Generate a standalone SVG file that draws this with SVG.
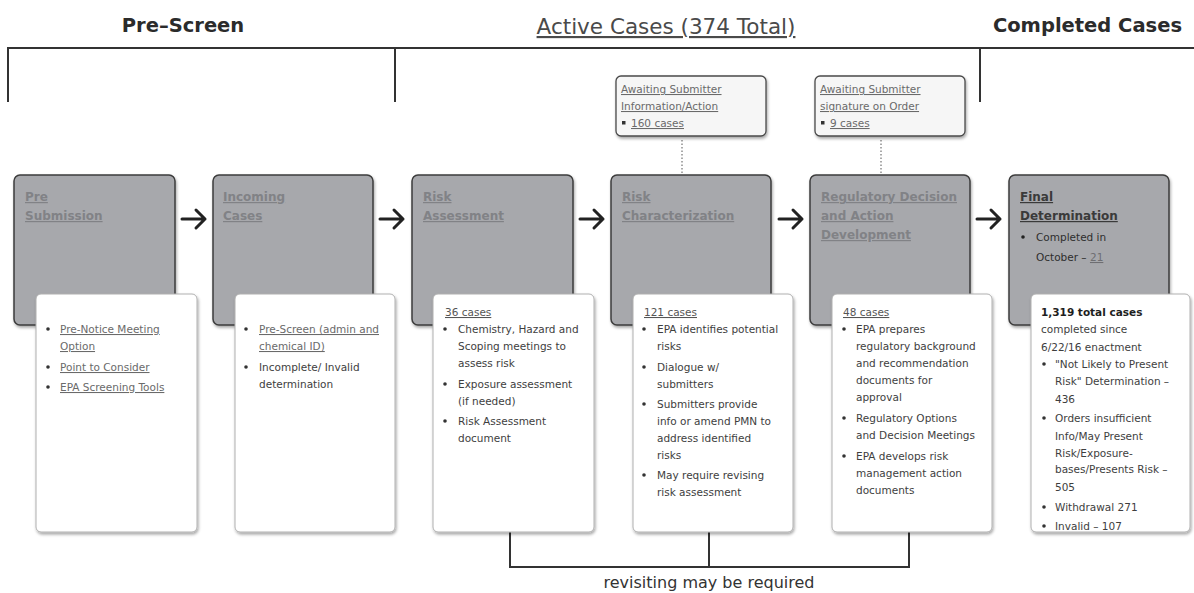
<svg xmlns="http://www.w3.org/2000/svg" width="1194" height="593" viewBox="0 0 1194 593">
<defs>
<style>
text{font-family:"DejaVu Sans",sans-serif}
.hdr{font-weight:bold;font-size:19.5px;fill:#2b2b2b}
.act{font-size:21.5px;fill:#4a4a4a;text-decoration:underline}
.gbox{fill:#a7a8ac;stroke:#3c3c3c;stroke-width:1.5}
.wbox{fill:#fff;stroke:#b0b0b0;stroke-width:1}
.abox{fill:#f6f6f6;stroke:#4a4a4a;stroke-width:1.3}
.ttl{font-weight:bold;font-size:12px;fill:#818286;text-decoration:underline}
.ttld{font-weight:bold;font-size:12px;fill:#3a3a3a;text-decoration:underline}
.t{font-size:10.5px;fill:#3e3e3e}
.l{font-size:10.5px;fill:#6a6a6a;text-decoration:underline}
.b{font-size:10.5px;font-weight:bold;fill:#1e1e1e}
.line{stroke:#333;stroke-width:2;fill:none}
.arr{stroke:#222;stroke-width:3;fill:none;stroke-linecap:round;stroke-linejoin:round}
.dot{fill:#333}
</style>
<filter id="sh" x="-10%" y="-10%" width="130%" height="130%">
<feDropShadow dx="1" dy="2" stdDeviation="1.5" flood-color="#000" flood-opacity="0.35"/>
</filter>
<clipPath id="c6"><rect x="1031" y="294" width="159" height="238" rx="5"/></clipPath>
</defs>

<g id="headers">
<text class="hdr" x="183" y="32" text-anchor="middle">Pre–Screen</text>
<text class="act" x="666" y="34" text-anchor="middle">Active Cases (374 Total)</text>
<text class="hdr" x="1182" y="32" text-anchor="end">Completed Cases</text>
</g>

<g id="connectors">
<path class="line" d="M8,102 V48 H1194 M395,48 V102 M980,48 V102" stroke-width="2.5"/>
<path class="arr" d="M182,219 H205 M196,210 L205,219 L196,228"/>
<path class="arr" d="M380,219 H403 M394,210 L403,219 L394,228"/>
<path class="arr" d="M580,219 H603 M594,210 L603,219 L594,228"/>
<path class="arr" d="M779,219 H802 M793,210 L802,219 L793,228"/>
<path class="arr" d="M977,219 H1000 M991,210 L1000,219 L991,228"/>
<path d="M682,140 V176 M881,140 V176" stroke="#555" stroke-width="1" stroke-dasharray="1.5,2" fill="none"/>
<path class="line" d="M510,532 V567 H909 V532 M709,532 V567"/>
<text x="709" y="588" text-anchor="middle" style="font-size:16px;fill:#333">revisiting may be required</text>
</g>

<g id="await1">
<rect class="abox" x="616" y="76" width="150" height="60" rx="5" filter="url(#sh)"/>
<text class="l" x="621" y="93">Awaiting Submitter</text>
<text class="l" x="621" y="110">Information/Action</text>
<rect x="622" y="121" width="3.5" height="3.5" fill="#333"/>
<text class="l" x="631" y="127">160 cases</text>
</g>
<g id="await2">
<rect class="abox" x="815" y="76" width="150" height="60" rx="5" filter="url(#sh)"/>
<text class="l" x="820" y="93">Awaiting Submitter</text>
<text class="l" x="820" y="110">signature on Order</text>
<rect x="821" y="121" width="3.5" height="3.5" fill="#333"/>
<text class="l" x="830" y="127">9 cases</text>
</g>

<g id="n1">
<rect class="gbox" x="14" y="175" width="161" height="150" rx="6" filter="url(#sh)"/>
<text class="ttl" x="25" y="201">Pre</text>
<text class="ttl" x="25" y="220">Submission</text>
<rect class="wbox" x="36" y="294" width="161" height="238" rx="5" filter="url(#sh)"/>
<circle class="dot" cx="48" cy="329" r="1.8"/>
<text class="l" x="60" y="333">Pre-Notice Meeting</text>
<text class="l" x="60" y="350">Option</text>
<circle class="dot" cx="48" cy="367" r="1.8"/>
<text class="l" x="60" y="371">Point to Consider</text>
<circle class="dot" cx="48" cy="387" r="1.8"/>
<text class="l" x="60" y="391">EPA Screening Tools</text>
</g>

<g id="n2">
<rect class="gbox" x="213" y="175" width="160" height="150" rx="6" filter="url(#sh)"/>
<text class="ttl" x="223" y="201">Incoming</text>
<text class="ttl" x="223" y="220">Cases</text>
<rect class="wbox" x="235" y="294" width="160" height="238" rx="5" filter="url(#sh)"/>
<circle class="dot" cx="246" cy="329" r="1.8"/>
<text class="l" x="259" y="333">Pre-Screen (admin and</text>
<text class="l" x="259" y="350">chemical ID)</text>
<circle class="dot" cx="246" cy="367" r="1.8"/>
<text class="t" x="259" y="371">Incomplete/ Invalid</text>
<text class="t" x="259" y="388">determination</text>
</g>

<g id="n3">
<rect class="gbox" x="412" y="175" width="161" height="150" rx="6" filter="url(#sh)"/>
<text class="ttl" x="423" y="201">Risk</text>
<text class="ttl" x="423" y="220">Assessment</text>
<rect class="wbox" x="433" y="294" width="161" height="238" rx="5" filter="url(#sh)"/>
<text class="l" x="445" y="316" style="fill:#555">36 cases</text>
<circle class="dot" cx="445" cy="329" r="1.8"/>
<text class="t" x="458" y="333">Chemistry, Hazard and</text>
<text class="t" x="458" y="350">Scoping meetings to</text>
<text class="t" x="458" y="367">assess risk</text>
<circle class="dot" cx="445" cy="384" r="1.8"/>
<text class="t" x="458" y="388">Exposure assessment</text>
<text class="t" x="458" y="405">(if needed)</text>
<circle class="dot" cx="445" cy="421" r="1.8"/>
<text class="t" x="458" y="425">Risk Assessment</text>
<text class="t" x="458" y="442">document</text>
</g>

<g id="n4">
<rect class="gbox" x="611" y="175" width="160" height="150" rx="6" filter="url(#sh)"/>
<text class="ttl" x="622" y="201">Risk</text>
<text class="ttl" x="622" y="220">Characterization</text>
<rect class="wbox" x="633" y="294" width="160" height="238" rx="5" filter="url(#sh)"/>
<text class="l" x="644" y="316" style="fill:#555">121 cases</text>
<circle class="dot" cx="644" cy="329" r="1.8"/>
<text class="t" x="657" y="333">EPA identifies potential</text>
<text class="t" x="657" y="350">risks</text>
<circle class="dot" cx="644" cy="367" r="1.8"/>
<text class="t" x="657" y="371">Dialogue w/</text>
<text class="t" x="657" y="388">submitters</text>
<circle class="dot" cx="644" cy="404" r="1.8"/>
<text class="t" x="657" y="408">Submitters provide</text>
<text class="t" x="657" y="425">info or amend PMN to</text>
<text class="t" x="657" y="442">address identified</text>
<text class="t" x="657" y="459">risks</text>
<circle class="dot" cx="644" cy="475" r="1.8"/>
<text class="t" x="657" y="479">May require revising</text>
<text class="t" x="657" y="496">risk assessment</text>
</g>

<g id="n5">
<rect class="gbox" x="810" y="175" width="160" height="150" rx="6" filter="url(#sh)"/>
<text class="ttl" x="821" y="201">Regulatory Decision</text>
<text class="ttl" x="821" y="220">and Action</text>
<text class="ttl" x="821" y="239">Development</text>
<rect class="wbox" x="832" y="294" width="160" height="238" rx="5" filter="url(#sh)"/>
<text class="l" x="843" y="316" style="fill:#555">48 cases</text>
<circle class="dot" cx="844" cy="329" r="1.8"/>
<text class="t" x="856" y="333">EPA prepares</text>
<text class="t" x="856" y="350">regulatory background</text>
<text class="t" x="856" y="367">and recommendation</text>
<text class="t" x="856" y="384">documents for</text>
<text class="t" x="856" y="401">approval</text>
<circle class="dot" cx="844" cy="418" r="1.8"/>
<text class="t" x="856" y="422">Regulatory Options</text>
<text class="t" x="856" y="439">and Decision Meetings</text>
<circle class="dot" cx="844" cy="456" r="1.8"/>
<text class="t" x="856" y="460">EPA develops risk</text>
<text class="t" x="856" y="477">management action</text>
<text class="t" x="856" y="494">documents</text>
</g>

<g id="n6">
<rect class="gbox" x="1009" y="175" width="160" height="150" rx="6" filter="url(#sh)"/>
<text class="ttld" x="1020" y="201">Final</text>
<text class="ttld" x="1020" y="220">Determination</text>
<circle cx="1023" cy="237" r="1.8" fill="#222"/>
<text class="t" x="1036" y="241" style="fill:#2e2e2e">Completed in</text>
<text class="t" x="1036" y="261" style="fill:#2e2e2e">October – <tspan style="fill:#6e6e72;text-decoration:underline">21</tspan></text>
<rect class="wbox" x="1031" y="294" width="159" height="238" rx="5" filter="url(#sh)"/>
<g clip-path="url(#c6)">
<text class="b" x="1041" y="316">1,319 total cases</text>
<text class="t" x="1041" y="333">completed since</text>
<text class="t" x="1041" y="351">6/22/16 enactment</text>
<circle class="dot" cx="1044" cy="364" r="1.8"/>
<text class="t" x="1055" y="368">"Not Likely to Present</text>
<text class="t" x="1055" y="385">Risk" Determination –</text>
<text class="t" x="1055" y="403">436</text>
<circle class="dot" cx="1044" cy="418" r="1.8"/>
<text class="t" x="1055" y="422">Orders insufficient</text>
<text class="t" x="1055" y="440">Info/May Present</text>
<text class="t" x="1055" y="457">Risk/Exposure-</text>
<text class="t" x="1055" y="473">bases/Presents Risk –</text>
<text class="t" x="1055" y="491">505</text>
<circle class="dot" cx="1044" cy="507" r="1.8"/>
<text class="t" x="1055" y="511">Withdrawal 271</text>
<circle class="dot" cx="1044" cy="526" r="1.8"/>
<text class="t" x="1055" y="530">Invalid – 107</text>
</g>
</g>
</svg>
